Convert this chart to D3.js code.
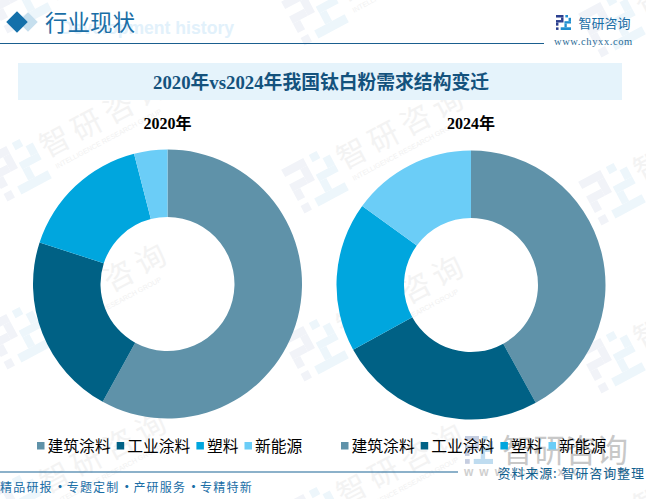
<!DOCTYPE html>
<html>
<head>
<meta charset="utf-8">
<script src="https://cdn.jsdelivr.net/npm/d3@7"></script>
<style>
html, body { margin: 0; padding: 0; background: #fff; }
svg { display: block; }
text { font-family: "Noto Sans CJK SC", sans-serif; }
.serif { font-family: "Liberation Serif", "Noto Sans CJK SC", serif; font-weight: bold; }
</style>
</head>
<body>
<div id="chart"></div>
<script>
const categories = ["建筑涂料", "工业涂料", "塑料", "新能源"]
const colours = ["#5f92a9", "#006185", "#00a6de", "#6bcdf7"]
const years = ["2020年", "2024年"]
const values2020 = [58, 22, 16, 4]
const values2024 = [42, 25, 18, 15]
const slogans = ["精品研报", "专题定制", "产研服务", "专精特新"]

const width = 646
const height = 499

const svg = d3.select("#chart").append("svg")
  .attr("width", width)
  .attr("height", height)

const colour = d3.scaleOrdinal().domain(categories).range(colours)

// logo, drawn on a 16x16 grid
function logo(g, size, dark, blue) {
  const k = size / 16
  const left = [[0,0,8,2.7],[5.4,2.7,2.6,5.3],[0,5.4,5.4,2.6],[0,8,2.6,3.4],[0,13.2,2.7,2.7]]
  const right = [[10,0,2.8,2.6],[13.4,3,2.6,3.6],[9,6.6,7,2.5],[9,9.1,2.5,4],[5,13.1,11,2.9]]
  g.selectAll(null).data(left).enter().append("rect")
    .attr("x", d => d[0] * k).attr("y", d => d[1] * k)
    .attr("width", d => d[2] * k).attr("height", d => d[3] * k)
    .attr("fill", dark)
  g.selectAll(null).data(right).enter().append("rect")
    .attr("x", d => d[0] * k).attr("y", d => d[1] * k)
    .attr("width", d => d[2] * k).attr("height", d => d[3] * k)
    .attr("fill", blue)
}

// background watermark tiles
const marks = svg.append("g")
d3.range(0, 4).forEach(row => {
  d3.range(0, 3).forEach(col => {
    const x = 18 + col * 297
    const y = row * 168 + col * 12
    const tile = marks.append("g").attr("transform", `translate(${x},${y}) rotate(-28)`)
    logo(tile.append("g").attr("transform", "translate(-25,-25)"), 50, "#f1f3f8", "#edf6fb")
    tile.append("text")
      .attr("x", 30).attr("y", 5)
      .attr("font-size", 30)
      .attr("letter-spacing", 6)
      .attr("fill", "#f3f3f3")
      .text("智研咨询")
    tile.append("text")
      .attr("x", 34).attr("y", 19)
      .attr("font-size", 7)
      .attr("fill", "#f1f1f1")
      .style("font-family", "'Liberation Sans'")
      .text("INTELLIGENCE RESEARCH GROUP")
  })
})

// header
svg.append("text")
  .attr("x", 60).attr("y", 34)
  .attr("font-size", 17.6)
  .attr("font-weight", "bold")
  .attr("fill", "#e2f1fb")
  .style("font-family", "'Liberation Sans'")
  .text("Development history")

const diamond = d3.symbol().type(d3.symbolSquare)
svg.append("path")
  .attr("d", diamond.size(190)())
  .attr("transform", "translate(28,22) rotate(45)")
  .attr("fill", "#c6dfee")
svg.append("path")
  .attr("d", diamond.size(230)())
  .attr("transform", "translate(17,22) rotate(45)")
  .attr("fill", "#1470aa")

svg.append("text")
  .attr("x", 45).attr("y", 31)
  .attr("font-size", 22.5)
  .attr("fill", "#1a6ea6")
  .text("行业现状")

svg.append("line")
  .attr("x1", 0).attr("x2", 544)
  .attr("y1", 43.5).attr("y2", 43.5)
  .attr("stroke", "#1a5f8f")
  .attr("stroke-width", 1.2)

logo(svg.append("g").attr("transform", "translate(556,15)"), 15, "#2b3f8f", "#1f8fd0")
svg.append("text")
  .attr("x", 578.5).attr("y", 28)
  .attr("font-size", 13)
  .attr("fill", "#1a6ea6")
  .text("智研咨询")
svg.append("text")
  .attr("x", 554).attr("y", 45)
  .attr("font-size", 10.5)
  .attr("letter-spacing", 0.6)
  .attr("fill", "#2a6b96")
  .style("font-family", "'Liberation Serif'")
  .text("www.chyxx.com")

// title
svg.append("rect")
  .attr("x", 18).attr("y", 63)
  .attr("width", 604).attr("height", 37)
  .attr("fill", "#e5f3fb")
svg.append("text")
  .attr("class", "serif")
  .attr("x", 321).attr("y", 89)
  .attr("text-anchor", "middle")
  .attr("font-size", 18.8)
  .attr("fill", "#14527d")
  .text("2020年vs2024年我国钛白粉需求结构变迁")

// big grey watermark under the legend
logo(svg.append("g").attr("transform", "translate(465,436)"), 28, "#c5cde0", "#bfdcf0")
svg.append("text")
  .attr("x", 502).attr("y", 462)
  .attr("font-size", 31.5)
  .attr("fill", "#c8c8c8")
  .text("智研咨询")
svg.append("text")
  .attr("x", 464).attr("y", 476)
  .attr("font-size", 12)
  .attr("font-weight", "bold")
  .attr("letter-spacing", 6)
  .attr("fill", "#cfcfcf")
  .style("font-family", "'Liberation Sans'")
  .text("www.chyxx.com")

// donuts
const pie = d3.pie().sort(null).value(d => d.value)
const arc = d3.arc().innerRadius(67).outerRadius(134.5)

function donut(values, year, cx, cy) {
  const rows = categories.map((c, i) => ({ name: c, value: values[i] }))
  const g = svg.append("g").attr("transform", `translate(${cx},${cy})`)
  g.selectAll("path")
    .data(pie(rows))
    .enter()
    .append("path")
    .attr("d", arc)
    .attr("fill", d => colour(d.data.name))
  svg.append("text")
    .attr("class", "serif")
    .attr("x", cx).attr("y", 129)
    .attr("text-anchor", "middle")
    .attr("font-size", 16)
    .attr("fill", "#000")
    .text(year)
}

donut(values2020, years[0], 167.5, 284)
donut(values2024, years[1], 471, 285)

function legend(x0) {
  let x = x0
  categories.forEach(c => {
    svg.append("rect")
      .attr("x", x).attr("y", 442)
      .attr("width", 7.5).attr("height", 7.5)
      .attr("fill", colour(c))
    svg.append("text")
      .attr("x", x + 10.5).attr("y", 451.5)
      .attr("font-size", 15.8)
      .attr("fill", "#000")
      .text(c)
    x += c.length * 15.8 + 16.5
  })
}

legend(37)
legend(341)

// footer
svg.append("line")
  .attr("x1", 0).attr("x2", 458)
  .attr("y1", 472).attr("y2", 472)
  .attr("stroke", "#1a6596")
  .attr("stroke-width", 1.2)
slogans.forEach((s, i) => {
  svg.append("text")
    .attr("x", i * 66.7).attr("y", 492)
    .attr("font-size", 12)
    .attr("letter-spacing", 1.2)
    .attr("fill", "#1a6ea6")
    .text(s)
  if (i < slogans.length - 1) {
    svg.append("text")
      .attr("x", i * 66.7 + 54).attr("y", 492)
      .attr("font-size", 12)
      .attr("font-weight", "bold")
      .attr("fill", "#1a6ea6")
      .text("·")
  }
})
svg.append("text")
  .attr("x", 497.5).attr("y", 478)
  .attr("font-size", 13)
  .attr("letter-spacing", 0.9)
  .attr("fill", "#10608f")
  .text("资料来源: 智研咨询整理")
</script>
</body>
</html>
